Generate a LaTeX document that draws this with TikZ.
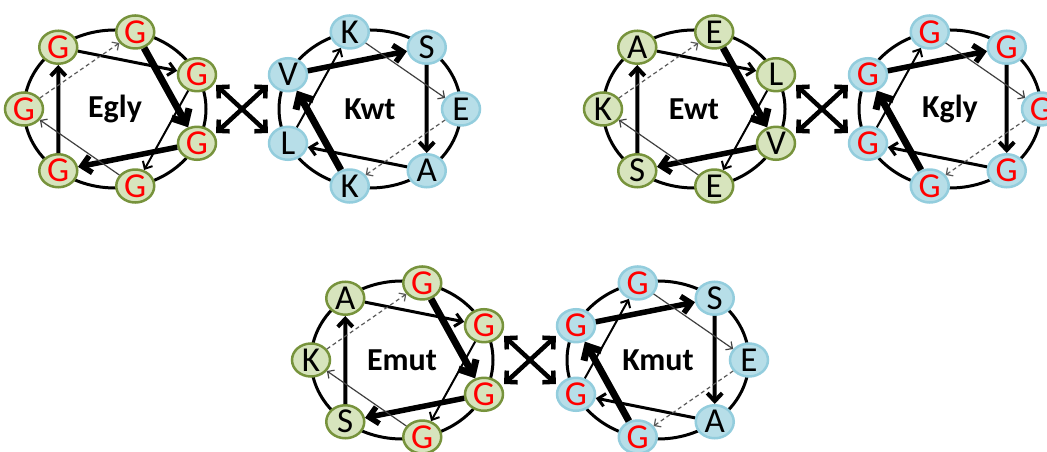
\documentclass[tikz,border=0pt]{standalone}
\usepackage{fontspec}
\setmainfont{Carlito}
\usetikzlibrary{shapes.geometric,arrows.meta}

\definecolor{egfill}{HTML}{D7E4BD}
\definecolor{egdraw}{HTML}{77933C}
\definecolor{kfill}{HTML}{B7DEE8}
\definecolor{kdraw}{HTML}{93CDDD}
\definecolor{resred}{HTML}{FF0000}

\tikzset{
  ring/.style={line width=3pt},
  res/.style={ellipse, minimum width=38pt, minimum height=33pt, inner sep=0pt,
    line width=2.5pt, font=\fontsize{35}{35}\selectfont},
  eres/.style={res, fill=egfill, draw=egdraw},
  kres/.style={res, fill=kfill, draw=kdraw},
  wlabel/.style={font=\bfseries\fontsize{32}{32}\selectfont},
  % arrows between consecutive residues, getting thinner along the heptad
  arr0/.style={line width=7pt, -{Straight Barb[length=11pt,width=20pt]}},
  arr1/.style={line width=5.5pt, -{Straight Barb[length=9pt,width=17pt]}},
  arr2/.style={line width=4pt, -{Straight Barb[length=8pt,width=15pt]}},
  arr3/.style={line width=3pt, -{Straight Barb[length=7pt,width=13pt]}},
  arr4/.style={line width=2pt, -{Straight Barb[length=6pt,width=11pt]}},
  arr5/.style={line width=1.2pt, black!75, -{Straight Barb[length=5pt,width=10pt]}},
  arr6/.style={line width=1.2pt, black!65, dash pattern=on 4pt off 3pt,
    -{Straight Barb[length=5pt,width=10pt]}},
  xarr/.style={line width=4.5pt, {Straight Barb[length=8pt,width=16pt]}-{Straight Barb[length=8pt,width=16pt]}},
}

% #1 name, #2 centre, #3 angle of residue 1, #4 node style, #5 residues letter/colour, #6 label
\newcommand\helwheel[6]{%
  \begin{scope}[shift={#2}]
    \draw[ring] (0,0) ellipse[x radius=91, y radius=79];
    \node[wlabel] (#1lbl) at (0,0) {#6};
    \foreach \rl/\rc [count=\i from 0] in {#5} {
      \node[#4, text=\rc] (#1\i) at ({91*cos(#3-102.857*\i)},{79*sin(#3-102.857*\i)}) {\rl};
    }
    \foreach \i in {0,...,6} {
      \pgfmathtruncatemacro\j{mod(\i+1,7)}
      \draw[arr\i] (#1\i) -- (#1\j);
    }
  \end{scope}
}

% crossed double arrows between two wheels
\newcommand\xarrows[2]{%
  \begin{scope}[shift={#2}]
    \coordinate (#1ul) at (-26,24);
    \coordinate (#1ur) at (26,24);
    \coordinate (#1ll) at (-26,-24);
    \coordinate (#1lr) at (26,-24);
    \draw[xarr] (#1ul) -- (#1lr);
    \draw[xarr] (#1ll) -- (#1ur);
  \end{scope}
}

\begin{document}
\begin{tikzpicture}[x=1pt,y=1pt]
  \useasboundingbox (0,0) rectangle (1047,452);

  \helwheel{egly}{(115,343)}{77.143}{eres}
    {G/resred,G/resred,G/resred,G/resred,G/resred,G/resred,G/resred}{Egly}
  \helwheel{kwt}{(370,343)}{257.143}{kres}
    {K/black,V/black,S/black,A/black,L/black,K/black,E/black}{Kwt}
  \xarrows{xa}{(242,343)}

  \helwheel{ewt}{(694,343)}{77.143}{eres}
    {E/black,V/black,S/black,A/black,L/black,E/black,K/black}{Ewt}
  \helwheel{kgly}{(950,343)}{257.143}{kres}
    {G/resred,G/resred,G/resred,G/resred,G/resred,G/resred,G/resred}{Kgly}
  \xarrows{xb}{(822,343)}

  \helwheel{emut}{(402,92)}{77.143}{eres}
    {G/resred,G/resred,S/black,A/black,G/resred,G/resred,K/black}{Emut}
  \helwheel{kmut}{(658,92)}{257.143}{kres}
    {G/resred,G/resred,S/black,A/black,G/resred,G/resred,E/black}{Kmut}
  \xarrows{xc}{(530,92)}
\end{tikzpicture}
\end{document}
